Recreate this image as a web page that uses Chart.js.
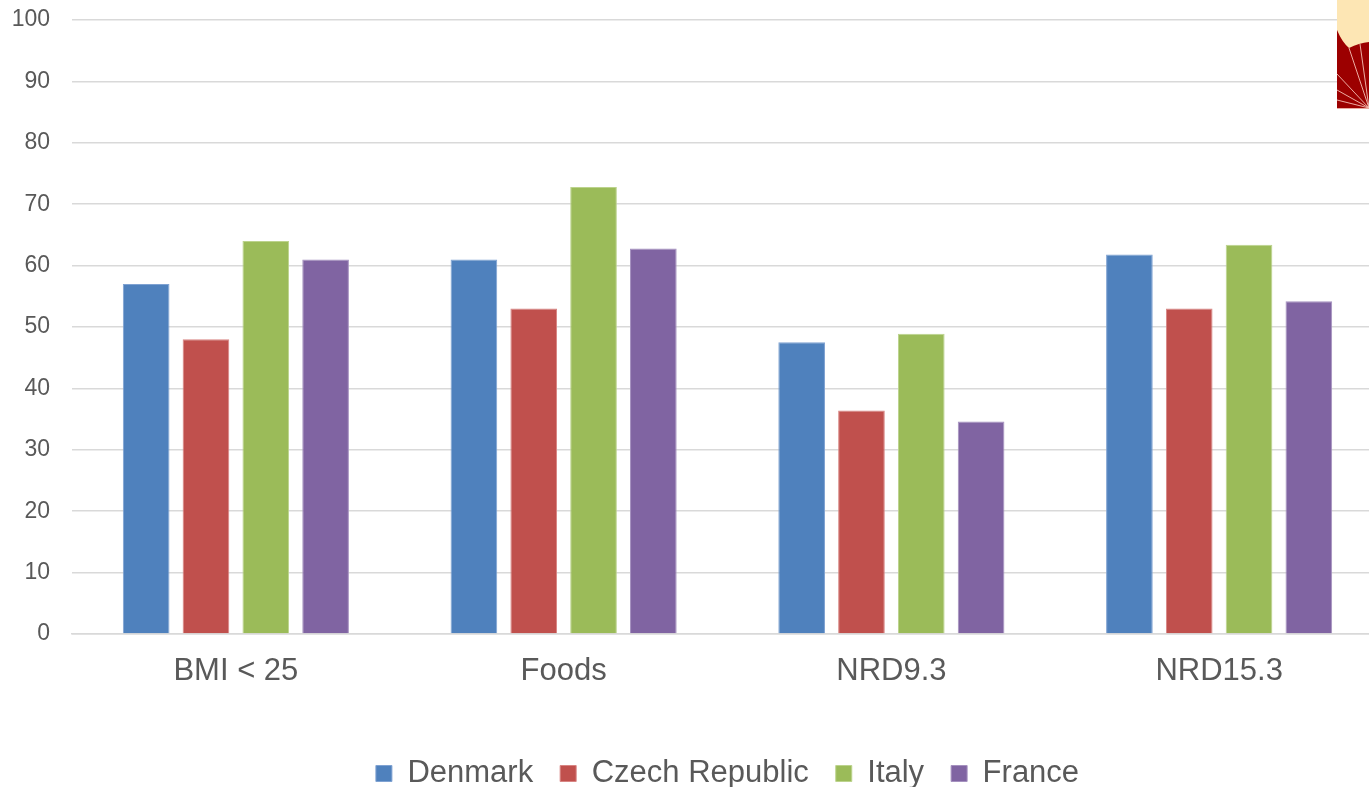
<!DOCTYPE html>
<html lang="en">
<head>
    <meta charset="UTF-8">
    <title>Country comparison</title>
    <script src="https://cdn.jsdelivr.net/npm/chart.js"></script>
    <style>
        html, body { margin: 0; padding: 0; background: #fff; overflow: hidden; }
        /* plot runs a little past the right edge of the window */
        #wrap { width: 1383px; height: 787px; position: relative; }
    </style>
</head>
<body>
    <div id="wrap"><canvas id="chart"></canvas></div>

    <script>
        const categories = ['BMI < 25', 'Foods', 'NRD9.3', 'NRD15.3'];
        const denmark = [57, 61, 47.5, 61.8];
        const czech = [48, 53, 36.4, 53];
        const italy = [64, 72.8, 48.9, 63.4];
        const france = [61, 62.8, 34.6, 54.2];
        const yTicks = [0, 10, 20, 30, 40, 50, 60, 70, 80, 90, 100];

        // little corner emblem, top right
        const emblem = {
            id: 'emblem',
            afterDraw(chart) {
                const c = chart.ctx;
                c.save();
                c.fillStyle = '#fde6b4';
                c.fillRect(1337, 0, 46, 108);
                c.fillStyle = '#9c0000';
                c.beginPath();
                c.moveTo(1337, 30);
                c.quadraticCurveTo(1342, 42, 1349, 48);
                c.quadraticCurveTo(1359, 43, 1369, 42);
                c.lineTo(1383, 40);
                c.lineTo(1383, 108);
                c.lineTo(1337, 108);
                c.closePath();
                c.fill();
                c.strokeStyle = 'rgba(245,190,180,0.9)';
                c.lineWidth = 1;
                [[1349, 48], [1337, 74], [1337, 90], [1337, 100], [1360, 44]].forEach(p => {
                    c.beginPath();
                    c.moveTo(1369, 108);
                    c.lineTo(p[0], p[1]);
                    c.stroke();
                });
                c.strokeStyle = '#e9a9a0';
                c.beginPath();
                c.moveTo(1337, 108.5);
                c.lineTo(1383, 108.5);
                c.stroke();
                c.restore();
            }
        };

        const ds = (label, data, color, edge) => ({
            label, data,
            backgroundColor: color,
            borderColor: edge,
            borderWidth: 1,
            categoryPercentage: 0.73,
            barPercentage: 0.78
        });

        new Chart(document.getElementById('chart'), {
            type: 'bar',
            data: {
                labels: categories,
                datasets: [
                    ds('Denmark', denmark, '#4f81bd', '#7fa2d2'),
                    ds('Czech Republic', czech, '#c0504d', '#d88583'),
                    ds('Italy', italy, '#9bbb59', '#bcd38d'),
                    ds('France', france, '#8064a2', '#a591bf')
                ]
            },
            options: {
                responsive: true,
                maintainAspectRatio: false,
                animation: false,
                layout: { padding: { left: 10, top: 20, right: 0, bottom: -12 } },
                scales: {
                    y: {
                        min: 0,
                        max: 100,
                        afterBuildTicks(scale) { scale.ticks = yTicks.map(v => ({ value: v })); },
                        afterFit(scale) { scale.width = 62; },
                        grid: { color: '#d9d9d9', lineWidth: 1.5, drawTicks: true, tickLength: 22, tickColor: 'rgba(0,0,0,0)' },
                        border: { display: false },
                        ticks: {
                            padding: 0,
                            color: '#595959',
                            font: { family: 'Liberation Sans, Arial, sans-serif', size: 23 }
                        }
                    },
                    x: {
                        grid: { display: false, drawTicks: false },
                        border: { display: true, color: '#d9d9d9', width: 1.5 },
                        afterFit(scale) { scale.height = 97; },
                        ticks: {
                            padding: 19,
                            color: '#595959',
                            font: { family: 'Liberation Sans, Arial, sans-serif', size: 31 }
                        }
                    }
                },
                plugins: {
                    legend: {
                        position: 'bottom',
                        fullSize: false,
                        labels: {
                            boxWidth: 16,
                            boxHeight: 16,
                            padding: 27,
                            color: '#595959',
                            font: { family: 'Liberation Sans, Arial, sans-serif', size: 31 }
                        }
                    },
                    tooltip: { enabled: false }
                }
            },
            plugins: [emblem]
        });
    </script>
</body>
</html>
